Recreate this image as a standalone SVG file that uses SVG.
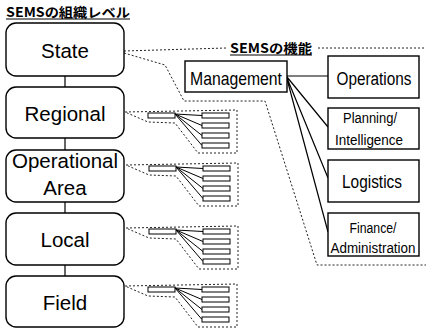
<svg xmlns="http://www.w3.org/2000/svg" xmlns:xlink="http://www.w3.org/1999/xlink" width="426" height="329" viewBox="0 0 426 329">
  <style>
    .lvl { fill: #fff; stroke: #000; stroke-width: 1.4; }
    .fn { fill: #fff; stroke: #000; stroke-width: 1.4; }
    .lvl-t { font-family: "Liberation Sans", Arial, sans-serif; font-size: 20.5px; fill: #000; text-anchor: middle; }
    .fn-t { font-family: "Liberation Sans", Arial, sans-serif; fill: #000; text-anchor: middle; }
    .ttl { font-family: "Noto Sans CJK JP", "Liberation Sans", sans-serif; font-weight: bold; fill: #000; }
    .link { stroke: #000; stroke-width: 1.2; fill: none; }
    .dot { stroke: #222; stroke-width: 1; stroke-dasharray: 2 2; fill: none; }
    .mini-box { fill: #fff; stroke: #000; stroke-width: 1; }
    .mini-link { stroke: #000; stroke-width: 1; fill: none; }
  </style>
  <defs>
    <!-- miniature of the function chart, placed beside each lower level -->
    <g id="mini">
      <path class="dot" d="M-23,-1 L89,-3 L89,40 L50,40 L27,10 L0,9 Z"/>
      <path class="mini-link" d="M27,1 L54,2.5 M27,1 L54,12.5 M27,1 L54,22.5 M27,1 L54,32.5"/>
      <rect class="mini-box" x="0" y="0" width="27" height="5"/>
      <rect class="mini-box" x="54" y="0" width="27" height="5"/>
      <rect class="mini-box" x="54" y="10" width="27" height="5"/>
      <rect class="mini-box" x="54" y="20" width="27" height="5"/>
      <rect class="mini-box" x="54" y="30" width="27" height="5"/>
    </g>
  </defs>

  <rect width="426" height="329" fill="#fff"/>

  <!-- headings -->
  <text class="ttl" x="6" y="17" font-size="13" textLength="124" lengthAdjust="spacingAndGlyphs">SEMSの組織レベル</text>
  <line x1="6" y1="19" x2="130" y2="19" stroke="#000" stroke-width="1"/>
  <text class="ttl" x="230" y="53" font-size="13" textLength="82" lengthAdjust="spacingAndGlyphs">SEMSの機能</text>
  <line x1="230" y1="55" x2="312" y2="55" stroke="#000" stroke-width="1.2"/>

  <!-- connectors -->
  <g id="connectors">
    <path class="link" d="M65,76 V87 M65,138 V150 M65,202 V213 M65,265 V276"/>
    <path class="dot" d="M124,51 L226,48 M318,48 L426,48"/>
    <path class="dot" d="M124,53 L165,65 L184,101 L265,101 L317,265 L426,265"/>
    <path class="link" d="M287,76 L328,76 M287,77 L328,127 M287,78 L328,178 M287,79 L328,232"/>
    <use xlink:href="#mini" href="#mini" transform="translate(148,113)"/>
    <use xlink:href="#mini" href="#mini" transform="translate(149,166)"/>
    <use xlink:href="#mini" href="#mini" transform="translate(149,229)"/>
    <use xlink:href="#mini" href="#mini" transform="translate(148,287)"/>
  </g>

  <!-- organisational levels -->
  <g id="state">
    <rect class="lvl" x="6" y="23" width="118" height="53" rx="10"/>
    <text class="lvl-t" x="65" y="58">State</text>
  </g>
  <g id="regional">
    <rect class="lvl" x="6" y="87" width="118" height="51" rx="10"/>
    <text class="lvl-t" x="65" y="121">Regional</text>
  </g>
  <g id="operational-area">
    <rect class="lvl" x="6" y="150" width="118" height="52" rx="10"/>
    <text class="lvl-t" x="65" y="168">Operational</text>
    <text class="lvl-t" x="65" y="195">Area</text>
  </g>
  <g id="local">
    <rect class="lvl" x="6" y="213" width="118" height="52" rx="10"/>
    <text class="lvl-t" x="65" y="247">Local</text>
  </g>
  <g id="field">
    <rect class="lvl" x="6" y="276" width="118" height="51" rx="10"/>
    <text class="lvl-t" x="65" y="310">Field</text>
  </g>

  <!-- functions -->
  <g id="management">
    <rect class="fn" x="185" y="61" width="102" height="31"/>
    <text class="fn-t" x="236" y="85" font-size="19" textLength="92" lengthAdjust="spacingAndGlyphs">Management</text>
  </g>
  <g id="operations">
    <rect class="fn" x="328" y="56" width="91" height="42"/>
    <text class="fn-t" x="374" y="85" font-size="18" textLength="75" lengthAdjust="spacingAndGlyphs">Operations</text>
  </g>
  <g id="planning">
    <rect class="fn" x="328" y="108" width="91" height="41"/>
    <text class="fn-t" x="370" y="123" font-size="14" textLength="54" lengthAdjust="spacingAndGlyphs">Planning/</text>
    <text class="fn-t" x="369" y="145" font-size="14" textLength="68" lengthAdjust="spacingAndGlyphs">Intelligence</text>
  </g>
  <g id="logistics">
    <rect class="fn" x="328" y="160" width="91" height="42"/>
    <text class="fn-t" x="372" y="188" font-size="18" textLength="60" lengthAdjust="spacingAndGlyphs">Logistics</text>
  </g>
  <g id="finance">
    <rect class="fn" x="328" y="213" width="91" height="43"/>
    <text class="fn-t" x="373" y="233" font-size="14" textLength="47" lengthAdjust="spacingAndGlyphs">Finance/</text>
    <text class="fn-t" x="373" y="253" font-size="14" textLength="85" lengthAdjust="spacingAndGlyphs">Administration</text>
  </g>
</svg>
